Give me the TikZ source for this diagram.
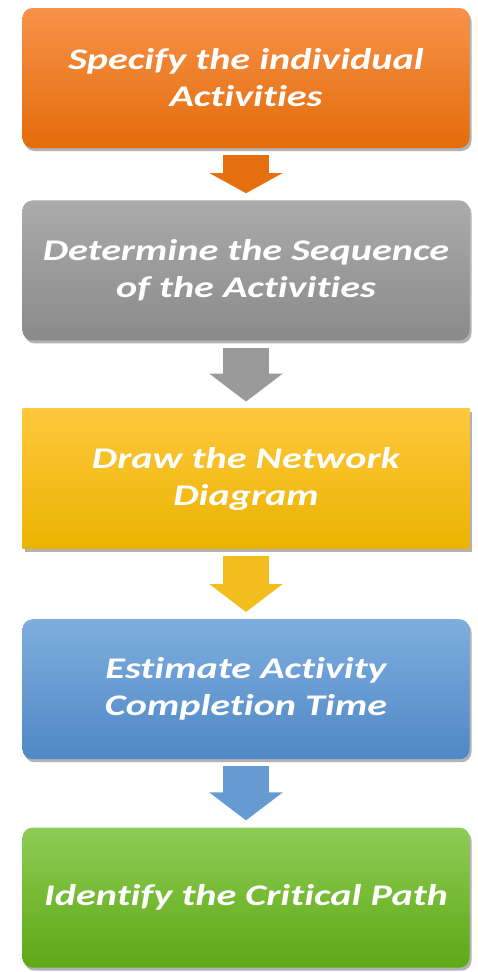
\documentclass[tikz,border=0pt]{standalone}
\usepackage{fontspec}
\setmainfont[Ligatures=NoCommon,FakeStretch=1.34]{Carlito}
\usetikzlibrary{positioning,shadows,arrows.meta}

\definecolor{orangeTop}{HTML}{F7924A}
\definecolor{orangeBot}{HTML}{E46C0A}
\definecolor{grayTop}{HTML}{ABABAB}
\definecolor{grayBot}{HTML}{8A8A8A}
\definecolor{yellowTop}{HTML}{FFC83D}
\definecolor{yellowBot}{HTML}{EAB300}
\definecolor{blueTop}{HTML}{7EAEDE}
\definecolor{blueBot}{HTML}{4F88C6}
\definecolor{greenTop}{HTML}{8ECC55}
\definecolor{greenBot}{HTML}{5EA815}

\begin{document}
\begin{tikzpicture}[->,>={Triangle[width=72pt,length=28pt]},node distance=68pt,
  box node/.style={minimum width=447pt,minimum height=140pt,rounded corners=10pt,
    align=center,text=white,font=\fontsize{30}{37}\selectfont\bfseries\itshape,
    drop shadow={shadow xshift=2pt,shadow yshift=-3pt,opacity=0.3,fill=black}},
  flow/.style={line width=46pt,shorten >=7pt,shorten <=7pt,draw=#1}]
  \useasboundingbox (0,0) rectangle (478pt,-972pt);
  \node[box node] (1) at (246pt,-78pt) [top color=orangeTop,bottom color=orangeBot] {Specify the individual\\Activities};
  \node[box node] (2) [below=52pt of 1, top color=grayTop, bottom color=grayBot] {Determine the Sequence\\of the Activities};
  \node[box node] (3) [below=68pt of 2, sharp corners, top color=yellowTop, bottom color=yellowBot] {Draw the Network\\Diagram};
  \node[box node] (4) [below=70pt of 3, top color=blueTop, bottom color=blueBot] {Estimate Activity\\Completion Time};
  \node[box node] (5) [below=68pt of 4, top color=greenTop, bottom color=greenBot] {Identify the Critical Path};
  \path
  (1) edge [flow=orangeBot!90!orangeTop, >={Triangle[width=72pt,length=20pt]}] (2)
  (2) edge [flow=grayTop!50!grayBot] (3)
  (3) edge [flow=yellowTop!50!yellowBot] (4)
  (4) edge [flow=blueTop!50!blueBot] (5);
\end{tikzpicture}
\end{document}
